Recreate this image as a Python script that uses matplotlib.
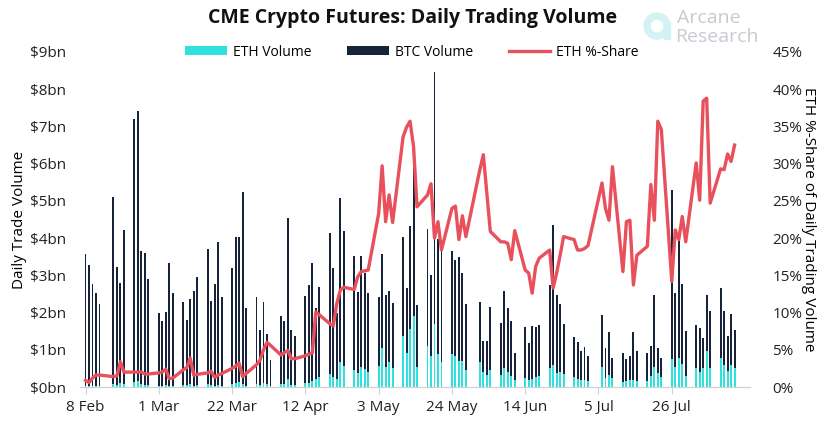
import matplotlib
matplotlib.use("Agg")
import matplotlib.pyplot as plt
from matplotlib.patches import Wedge, Rectangle
import pandas as pd

# trading days (CME), 8 Feb - 13 Aug 2021
holidays = ["2021-02-15", "2021-05-31", "2021-07-05"]
dates = pd.bdate_range("2021-02-08", "2021-08-13", freq="C", holidays=holidays)

# ETH futures volume, $bn
eth = [0.03, 0.02, 0.03, 0.04, 0.04,
       0.07, 0.05, 0.10, 0.08,
       0.14, 0.15, 0.07, 0.06, 0.05,
       0.04, 0.04, 0.05, 0.04, 0.03,
       0.05, 0.05, 0.09, 0.04, 0.05,
       0.07, 0.05, 0.04, 0.06, 0.04,
       0.08, 0.11, 0.13, 0.07, 0.04,
       0.07, 0.06, 0.11, 0.09, 0.04,
       0.08, 0.08, 0.22, 0.06, 0.05,
       0.10, 0.12, 0.15, 0.22, 0.26,
       0.35, 0.26, 0.22, 0.66, 0.56,
       0.46, 0.38, 0.55, 0.48, 0.40,
       0.56, 1.06, 0.55, 0.67, 0.50,
       1.36, 0.92, 1.55, 1.91, 0.53,
       1.10, 0.82, 1.69, 0.88, 0.68,
       0.88, 0.83, 0.69, 0.71, 0.45,
       0.67, 0.39, 0.32, 0.45,
       0.33, 0.51, 0.41, 0.30, 0.19,
       0.25, 0.18, 0.21, 0.26, 0.29,
       0.50, 0.58, 0.38, 0.39, 0.34,
       0.27, 0.22, 0.18, 0.20, 0.16,
       0.53, 0.25, 0.33, 0.23,
       0.14, 0.17, 0.19, 0.20, 0.17,
       0.17, 0.30, 0.55, 0.37, 0.27,
       0.75, 0.53, 0.77, 0.63, 0.29,
       0.50, 0.40, 0.50, 0.96, 0.50,
       0.78, 0.59, 0.43, 0.59, 0.50]

# BTC futures volume, $bn
btc = [3.54, 3.26, 2.73, 2.48, 2.18,
       5.04, 3.18, 2.70, 4.13,
       7.06, 7.27, 3.58, 3.54, 2.86,
       1.94, 1.73, 1.96, 3.29, 2.49,
       2.24, 1.75, 2.28, 2.54, 2.91,
       3.63, 2.26, 2.72, 3.84, 2.38,
       3.11, 3.93, 3.89, 5.16, 2.09,
       2.36, 1.47, 2.17, 1.33, 0.68,
       1.83, 1.69, 4.31, 1.47, 1.33,
       2.35, 2.62, 3.19, 1.91, 2.42,
       3.78, 2.95, 1.78, 4.41, 3.63,
       3.06, 2.16, 2.97, 2.58, 2.12,
       1.85, 2.51, 1.92, 1.92, 1.75,
       2.68, 1.73, 2.78, 4.01, 1.66,
       3.15, 2.19, 6.77, 3.09, 2.99,
       2.78, 2.57, 2.80, 2.36, 1.77,
       1.62, 0.85, 0.92, 1.69,
       1.38, 2.08, 1.70, 1.46, 0.72,
       1.35, 1.01, 1.44, 1.36, 1.37,
       2.24, 3.77, 2.09, 1.83, 1.34,
       1.07, 0.98, 0.79, 0.88, 0.66,
       1.41, 0.81, 1.16, 0.54,
       0.78, 0.58, 0.65, 1.28, 0.80,
       0.74, 0.81, 1.92, 0.67, 0.52,
       4.55, 1.99, 3.14, 2.14, 1.22,
       1.17, 1.18, 0.81, 1.51, 1.54,
       1.87, 1.44, 0.95, 1.37, 1.03]

# ETH share of daily volume, %
eth_share = [0.9, 0.6, 1.2, 1.6, 1.6,
             1.4, 1.5, 3.4, 2.0,
             2.0, 2.0, 2.0, 1.75, 1.75,
             1.9, 2.0, 2.4, 1.1, 1.2,
             2.3, 2.6, 3.9, 1.6, 1.7,
             1.9, 2.1, 1.3, 1.6, 1.8,
             2.5, 2.8, 3.2, 1.4, 1.8,
             3.0, 3.6, 5.0, 6.0, 5.6,
             4.3, 4.6, 4.9, 3.8, 3.8,
             4.2, 4.4, 4.6, 10.1, 9.7,
             8.5, 8.2, 11.2, 13.0, 13.4,
             13.1, 14.8, 15.5, 15.6, 15.7,
             23.3, 29.7, 22.2, 25.8, 22.1,
             33.6, 34.9, 35.7, 32.3, 24.2,
             25.8, 27.3, 20.0, 22.2, 18.4,
             24.0, 24.3, 19.8, 23.0, 20.2,
             29.2, 31.2, 26.0, 20.9,
             19.5, 19.5, 19.3, 17.1, 21.0,
             15.7, 15.3, 12.6, 16.2, 17.3,
             18.4, 13.3, 15.3, 17.7, 20.2,
             19.8, 18.4, 18.4, 18.6, 19.0,
             27.4, 24.0, 22.4, 29.6,
             15.5, 22.2, 22.4, 13.7, 17.7,
             18.9, 27.2, 22.4, 35.7, 34.6,
             14.2, 21.1, 19.8, 22.9, 19.5,
             30.1, 25.1, 38.4, 38.8, 24.7,
             29.3, 29.2, 31.3, 30.3, 32.5]

tick_dates = pd.date_range("2021-02-08", periods=9, freq="21D")
left_ticks = list(range(0, 10))
right_ticks = list(range(0, 50, 5))

ETH_C = "#2fe0dc"
BTC_C = "#17233a"
LINE_C = "#e8505b"

plt.rcParams["font.family"] = ["Open Sans", "DejaVu Sans"]

fig = plt.figure(figsize=(8.3, 4.44), dpi=100)
ax = fig.add_axes([80 / 830, 57 / 444, 670 / 830, 335 / 444])

ax.bar(dates, eth, width=0.55, color=ETH_C, label="ETH Volume", zorder=2)
ax.bar(dates, btc, bottom=eth, width=0.55, color=BTC_C, label="BTC Volume", zorder=2)

ax2 = ax.twinx()
ax2.plot(dates, eth_share, color=LINE_C, lw=2.4, label="ETH %-Share", zorder=3)

ax.set_ylim(0, 9)
ax2.set_ylim(0, 45)
ax.set_xlim(pd.Timestamp("2021-02-06 10:00"), pd.Timestamp("2021-08-17 10:00"))

ax.set_yticks(left_ticks)
ax.set_yticklabels(["$%dbn" % v for v in left_ticks])
ax2.set_yticks(right_ticks)
ax2.set_yticklabels(["%d%%" % v for v in right_ticks])
ax.set_xticks(tick_dates)
ax.set_xticklabels(["%d %s" % (d.day, d.strftime("%b")) for d in tick_dates])

for a in (ax, ax2):
    for s in ("top", "left", "right"):
        a.spines[s].set_visible(False)
    a.spines["bottom"].set_color("#d0d0d0")
ax.tick_params(axis="y", length=0, pad=10, labelsize=11, colors="#222222")
ax2.tick_params(axis="y", length=0, pad=16, labelsize=11, colors="#222222")
ax.tick_params(axis="x", length=5, color="#d0d0d0", labelsize=11, pad=4)
ax.tick_params(axis="x", labelcolor="#222222")

ax.set_ylabel("Daily Trade Volume", fontsize=11, labelpad=2)
ax2.set_ylabel("ETH %-Share of Daily Trading Volume", fontsize=11, rotation=270, labelpad=10)

fig.text(413 / 830, 1 - 18 / 444, "CME Crypto Futures: Daily Trading Volume",
         ha="center", va="center", fontsize=14, fontweight="bold", color="#111111")

h1, l1 = ax.get_legend_handles_labels()
h2, l2 = ax2.get_legend_handles_labels()
fig.legend(h1 + h2, l1 + l2, loc="center", bbox_to_anchor=(412 / 830, 1 - 52 / 444),
           ncol=3, frameon=False, fontsize=10, handlelength=3.0, columnspacing=2.6,
           handletextpad=0.4)

# Arcane Research logo (light)
logo = fig.add_axes([640 / 830, 1 - 46 / 444, 36 / 830, 40 / 444])
logo.set_xlim(0, 36)
logo.set_ylim(0, 40)
logo.set_aspect("equal")
logo.axis("off")
logo.add_patch(Wedge((17, 20), 13, 0, 360, width=6, color="#d4f2f3"))
logo.add_patch(Rectangle((24, 7), 6, 17, color="#d4f2f3"))
fig.text(677 / 830, 1 - 18 / 444, "Arcane", fontsize=14, color="#c5cbd1", va="center")
fig.text(675 / 830, 1 - 37 / 444, "Research", fontsize=14, color="#c5cbd1", va="center")

fig.savefig("out.png", dpi=100)
